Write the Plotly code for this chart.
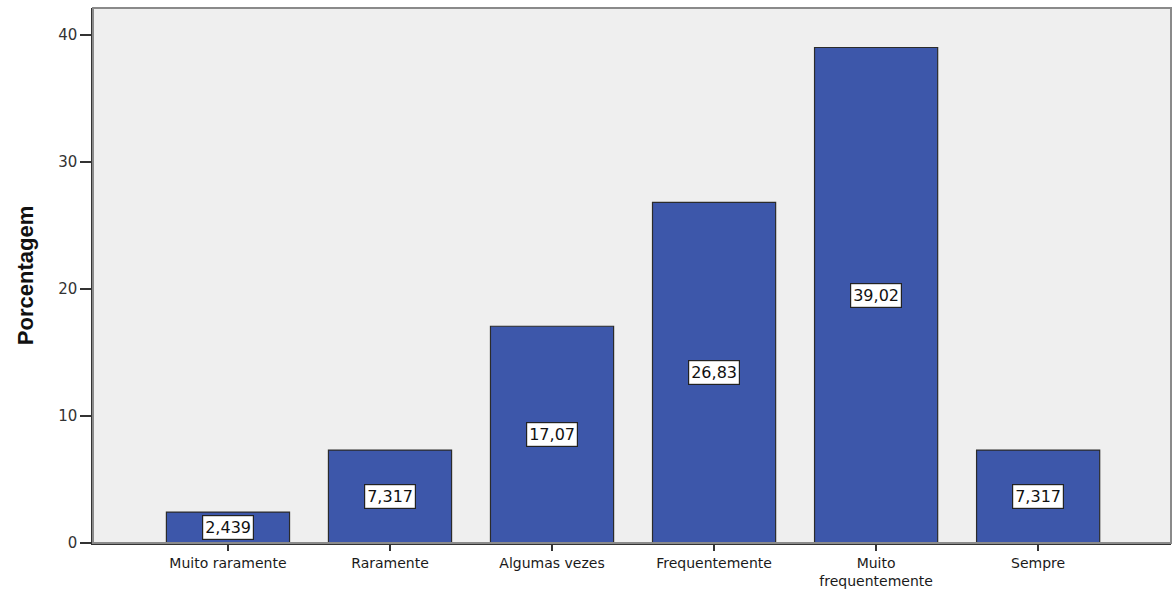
import plotly.graph_objects as go

categories = ["Muito raramente", "Raramente", "Algumas vezes", "Frequentemente",
              "Muito<br>frequentemente", "Sempre"]
values = [2.439, 7.317, 17.07, 26.83, 39.02, 7.317]
value_labels = ["2,439", "7,317", "17,07", "26,83", "39,02", "7,317"]
y_ticks = [0, 10, 20, 30, 40]

fig = go.Figure()
fig.add_trace(go.Bar(
    x=categories, y=values,
    width=0.76,
    marker=dict(color="#3d57aa", line=dict(color="#2b2b2b", width=1.2)),
    hoverinfo="skip",
))

for c, v, lab in zip(categories, values, value_labels):
    fig.add_annotation(
        x=c, y=v / 2, xref="x", yref="y", text=lab, showarrow=False,
        font=dict(family="DejaVu Sans", size=16, color="#111111"),
        bgcolor="white", bordercolor="#222222", borderwidth=1.2, borderpad=2,
    )

# plot frame (top/right border grey)
fig.add_shape(type="rect", xref="paper", yref="paper", x0=0, y0=0, x1=1, y1=1,
              line=dict(color="#8a8a8a", width=2), layer="above")

fig.update_layout(
    autosize=False,
    width=1172, height=589,
    margin=dict(l=93, r=1, t=8, b=46, autoexpand=False),
    paper_bgcolor="white",
    plot_bgcolor="#efefef",
    showlegend=False,
)
fig.update_xaxes(
    type="category",
    range=[-0.833, 5.82],
    automargin=False,
    showline=True, linecolor="#333333", linewidth=1.5,
    ticks="outside", ticklen=6, tickcolor="#333333", tickwidth=1.5,
    tickfont=dict(family="DejaVu Sans", size=14, color="#1a1a1a"),
    showgrid=False, zeroline=False,
)
fig.update_yaxes(
    range=[0, 42.13],
    tickvals=y_ticks,
    automargin=False,
    showline=True, linecolor="#333333", linewidth=1.5,
    ticks="outside", ticklen=11, tickcolor="#333333", tickwidth=1.5,
    tickfont=dict(family="DejaVu Sans", size=15, color="#333333"),
    showgrid=False, zeroline=False,
    title=dict(text="<b>Porcentagem</b>", standoff=18,
               font=dict(family="Liberation Sans Narrow, Liberation Sans, Arial", size=22, color="#111111")),
)

fig.write_html(
    "out.html",
    config={"displayModeBar": False, "responsive": False},
    post_script=(
        "document.documentElement.style.margin='0px';"
        "document.body.style.margin='0px';"
        "document.body.style.overflow='hidden';"
        "var gd=document.getElementById('{plot_id}');"
        "gd.style.width='1172px';gd.style.height='589px';"
        "Plotly.relayout(gd,{autosize:false,width:1172,height:589});"
    ),
)
